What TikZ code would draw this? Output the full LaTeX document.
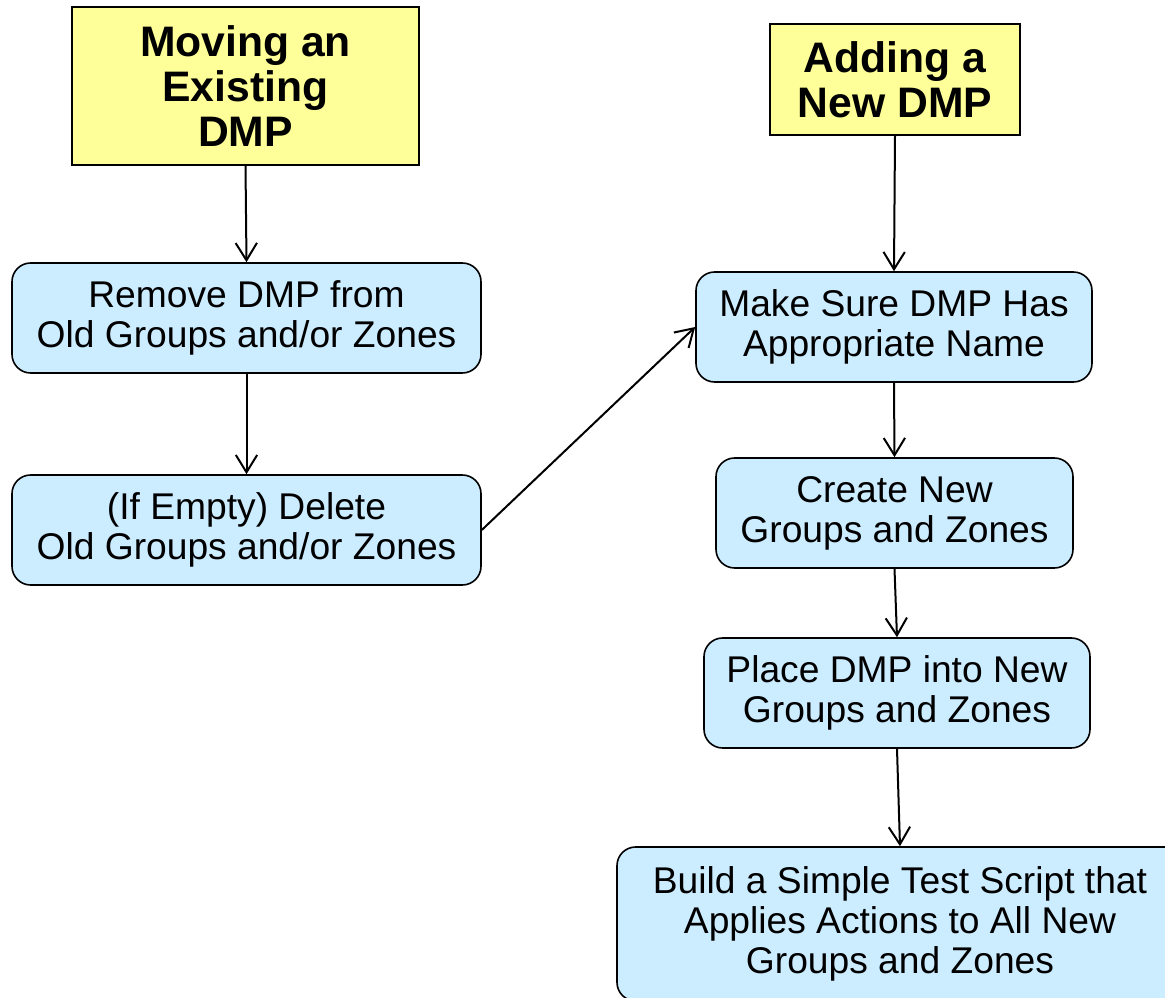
\documentclass[tikz,border=0pt]{standalone}
\usepackage{fontspec}
\setmainfont{Liberation Sans}
\usetikzlibrary{arrows.meta}
\definecolor{boxblue}{HTML}{CCECFF}
\definecolor{boxyellow}{HTML}{FFFF99}
\begin{document}
\begin{tikzpicture}[x=0.75pt,y=-0.75pt,
  stepbox/.style={draw=black, line width=1.2pt, fill=boxblue, rounded corners=14pt,
    align=center, inner sep=0pt, font=\fontsize{27.9}{30}\selectfont},
  titlebox/.style={draw=black, line width=1.2pt, fill=boxyellow,
    align=center, inner sep=0pt, font=\fontsize{32}{34}\selectfont\bfseries},
  conn/.style={line width=1.5pt, -{Straight Barb[length=13pt,width=16pt,line width=1.5pt]}}]
\clip (0,0) rectangle (1165,998);
\fill[white] (0,0) rectangle (1165,998);
\node[titlebox, minimum width=347*0.75pt, minimum height=158*0.75pt] (t1) at (245.5,86) {Moving an\\Existing\\DMP};
\node[titlebox, minimum width=250*0.75pt, minimum height=111*0.75pt] (t2) at (895,79.5) {Adding a\\New DMP};
\node[stepbox, minimum width=469*0.75pt, minimum height=110*0.75pt] (n3) at (246.5,318) {Remove DMP from\\Old Groups and/or Zones};
\node[stepbox, minimum width=469*0.75pt, minimum height=110*0.75pt] (n4) at (246.5,530) {(If Empty) Delete\\Old Groups and/or Zones};
\node[stepbox, minimum width=396*0.75pt, minimum height=110*0.75pt] (n5) at (894,327) {Make Sure DMP Has\\Appropriate Name};
\node[stepbox, minimum width=357*0.75pt, minimum height=110*0.75pt] (n6) at (894.5,513) {Create New\\Groups and Zones};
\node[stepbox, minimum width=386*0.75pt, minimum height=110*0.75pt] (n7) at (897,693) {Place DMP into New\\Groups and Zones};
\node[stepbox, minimum width=566*0.75pt, minimum height=154*0.75pt] (n8) at (900,924) {Build a Simple Test Script that\\Applies Actions to All New\\Groups and Zones};
\draw[conn] (t1.south) -- (n3.north);
\draw[conn] (n3.south) -- (n4.north);
\draw[conn] (n4.east) -- (n5.west);
\draw[conn] (t2.south) -- (n5.north);
\draw[conn] (n5.south) -- (n6.north);
\draw[conn] (n6.south) -- (n7.north);
\draw[conn] (n7.south) -- (n8.north);
\end{tikzpicture}
\end{document}
